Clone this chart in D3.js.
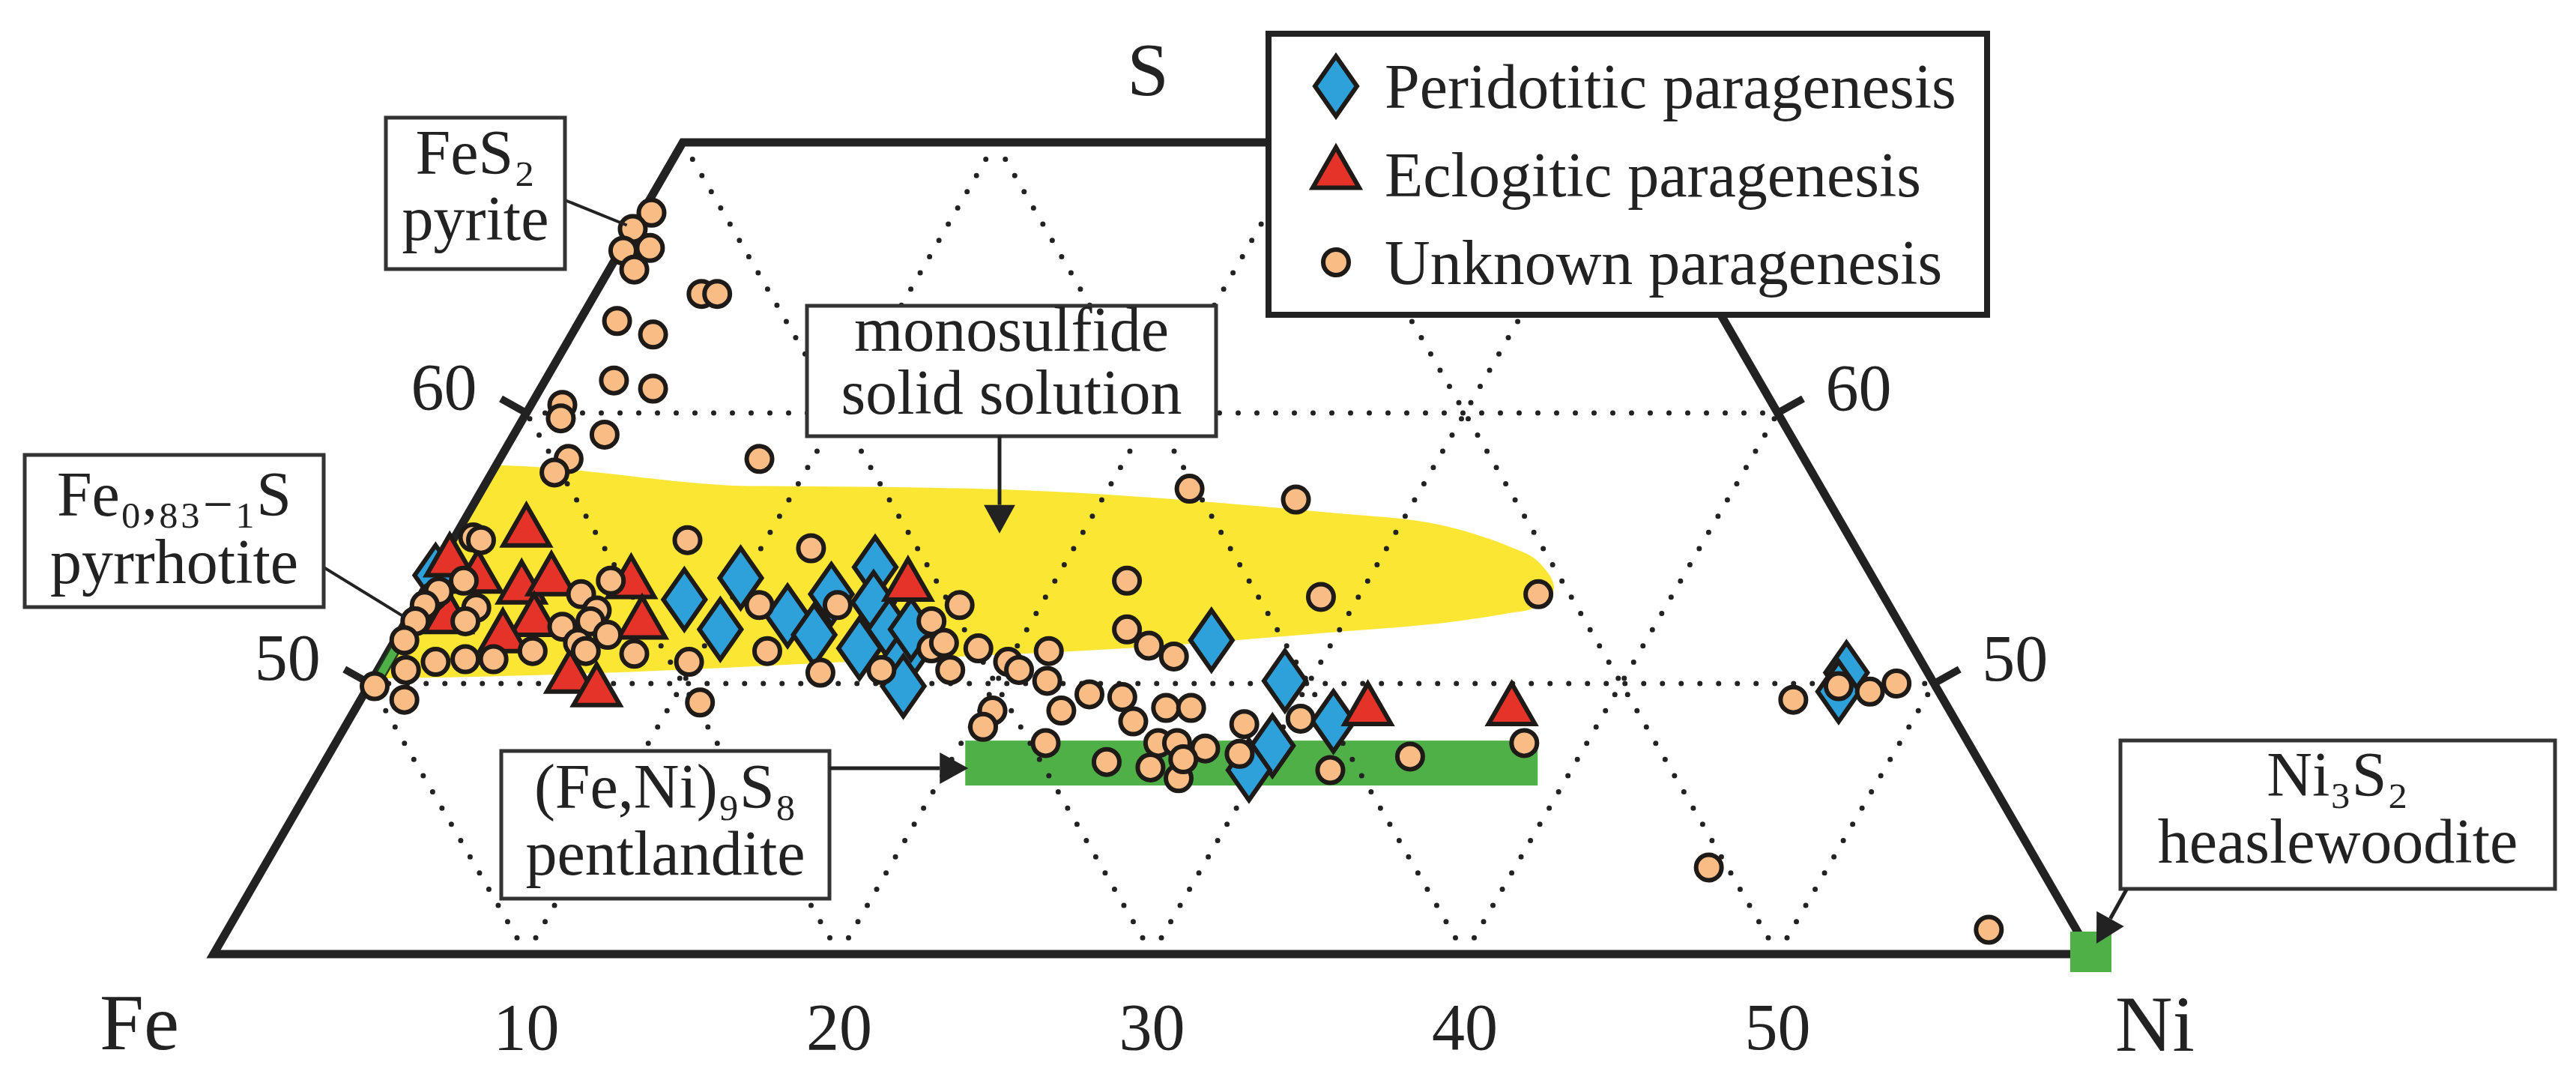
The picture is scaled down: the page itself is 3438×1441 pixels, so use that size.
<!DOCTYPE html>
<html>
<head>
<meta charset="utf-8">
<script src="https://cdn.jsdelivr.net/npm/d3@7"></script>
<style>
  html, body { margin: 0; padding: 0; background: #ffffff; }
  svg { display: block; }
  text { font-family: "Liberation Serif", "DejaVu Serif", serif; fill: #222; }
</style>
</head>
<body>
<script>
// ---------- DATA (atomic %, each point = [Ni, S]; Fe = 100 - Ni - S) ----------
const peridotitic = [
  [0.1,54.0],[8.5,53.1],[10.2,52.0],[9.9,53.9],[12.1,52.5],[13.3,51.8],[13.1,53.3],
  [14.0,54.3],[14.6,53.0],[15.0,51.3],[15.6,52.0],[16.6,50.9],[17.1,49.9],[16.3,52.0],
  [26.1,51.6],[29.2,50.1],[30.0,47.7],[31.5,48.6],[29.7,46.8],[47.0,50.4],[47.1,49.7]
];
const eclogitic = [
  [2.2,55.6],[0.3,54.5],[1.5,53.9],[3.1,53.5],[3.9,53.8],[6.5,53.7],[1.3,52.4],
  [4.1,52.3],[7.6,52.2],[3.4,51.7],[6.3,50.2],[7.4,49.7],[15.4,53.6],[32.4,49.0],[37.0,49.0]
];
const unknown = [
  [0.3,67.4],[0.0,66.8],[0.9,66.1],[0.1,66.0],[0.8,65.3],[3.4,64.4],[3.9,64.4],[1.2,63.4],
  [2.6,62.9],[2.2,61.2],[3.6,60.9],[1.0,60.3],[1.2,59.8],[2.9,59.2],[2.2,58.3],[2.0,57.8],[8.3,58.3],
  [7.5,55.3],[0.6,55.4],[0.9,55.3],[1.1,53.8],[0.4,53.2],[0.5,53.4],[0.3,52.9],[2.0,52.8],[1.9,52.3],
  [0.3,52.3],[0.3,51.6],[5.1,53.3],[5.8,53.8],[5.9,52.7],[5.9,52.3],[5.1,52.1],[5.9,51.5],[6.3,51.2],
  [6.7,51.8],[4.6,51.2],[7.9,51.1],[9.8,50.8],[1.7,50.8],[2.6,50.9],[3.5,50.9],[0.9,50.5],[0.2,49.9],
  [1.4,49.4],[10.9,49.3],
  [11.6,55.0],[11.0,52.9],[12.1,51.2],[13.5,52.9],[14.2,50.4],[16.1,50.5],[17.4,52.9],[16.8,52.3],
  [17.3,51.3],[17.6,51.5],[18.8,51.3],[18.3,50.5],[20.0,50.8],[20.5,50.5],[21.1,51.2],[21.6,50.1],
  [22.6,57.2],[26.2,56.8],
  [22.3,53.8],[28.8,53.2],[23.2,52.0],[24.2,51.4],[25.2,51.0],[23.2,49.6],[24.3,49.5],[25.1,48.6],
  [22.6,49.0],[20.4,49.0],[20.4,48.4],[22.7,47.8],[25.0,47.1],[25.9,49.1],[26.7,49.1],[26.3,47.8],
  [26.9,47.8],[27.9,47.6],[26.5,46.9],[27.6,46.5],[27.4,47.2],[28.7,48.5],[29.1,47.4],[30.4,48.7],
  [32.3,46.8],
  [35.7,53.3],[34.6,47.3],[38.0,47.8],
  [45.8,49.4],[47.0,49.9],[48.1,49.7],[48.8,50.0],[46.2,43.2],[56.3,40.9]
];
// monosulfide solid solution field outline [Ni, S]
const mssOutline = [
  [-3,57.3],[8.5,57.3],[18.2,57.1],[27.7,56.3],[31.1,55.9],[33.8,55.1],[35.1,54.5],[36.1,53.5],
  [35.8,52.8],[35.1,52.6],[32.9,52.2],[29.9,51.9],[23.5,51.3],[16.5,50.9],[9.5,50.5],[4.8,50.3],
  [0.6,50.2],[-3,50.2]
];
const pentlanditeNi = [20.5, 38.8];   // Ni range of the pentlandite band
const pentlanditeS = 47.06;          // (Fe,Ni)9S8
const pyrrhotiteS = [50.0, 53.7];    // Fe0.83-1S
const pyriteS = [65.9, 67.5];        // FeS2
const heazlewoodite = [60, 40];      // Ni3S2
const niTicks = [10, 20, 30, 40, 50];
const feGrid = [10, 20, 30, 40, 50];
const sTicks = [50, 60];
const legendItems = ["Peridotitic paragenesis", "Eclogitic paragenesis", "Unknown paragenesis"];
const boxLabels = [
  { x: 515,  y: 157,  w: 239, h: 202, lines: [["FeS₂", 232], ["pyrite", 320]] },
  { x: 1077, y: 408,  w: 546, h: 174, lines: [["monosulfide", 468], ["solid solution", 552]] },
  { x: 33,   y: 607,  w: 399, h: 203, lines: [["Fe₀,₈₃₋₁S", 688], ["pyrrhotite", 778]] },
  { x: 669,  y: 1002, w: 438, h: 197, lines: [["(Fe,Ni)₉S₈", 1078], ["pentlandite", 1167]] },
  { x: 2830, y: 988,  w: 580, h: 198, lines: [["Ni₃S₂", 1062], ["heaslewoodite", 1151]] }
];

// ---------- LAYOUT ----------
const W = 3438, H = 1441;
const svg = d3.select("body").append("svg").attr("width", W).attr("height", H)
  .attr("viewBox", `0 0 ${W} ${H}`);
svg.append("rect").attr("width", W).attr("height", H).attr("fill", "#fff");

// horizontal ternary coordinate h = Ni + (S-40)/2, vertical = S
const xScale = d3.scaleLinear().domain([0, 60]).range([285, 2790]);
const yScale = d3.scaleLinear().domain([40, 70]).range([1273, 190]);
const P = (ni, s) => [xScale(ni + (s - 40) / 2), yScale(s)];

const C = { yellow: "#fbe733", green: "#4fb048", orange: "#f8bc84", red: "#e6332a",
            blue: "#2ea0da", ink: "#1e1a17" };

const corners = [P(0,40), P(60,40), P(30,70), P(0,70)];
svg.append("clipPath").attr("id", "tri").append("path")
  .attr("d", "M" + corners.map(c => c.join(",")).join("L") + "Z");

// mss field
const areaLine = d3.line().x(d => P(d[0], d[1])[0]).y(d => P(d[0], d[1])[1])
  .curve(d3.curveCatmullRomClosed.alpha(0.5));
svg.append("path").attr("d", areaLine(mssOutline)).attr("fill", C.yellow)
  .attr("clip-path", "url(#tri)");

// pentlandite band
{
  const yTop = yScale(pentlanditeS + 0.83), yBot = yScale(pentlanditeS - 0.83);
  const x0 = P(pentlanditeNi[0], pentlanditeS)[0], x1 = P(pentlanditeNi[1], pentlanditeS)[0];
  svg.append("rect").attr("x", x0).attr("y", yTop).attr("width", x1 - x0)
    .attr("height", yBot - yTop).attr("fill", C.green);
}

// dotted grid
const grid = svg.append("g").attr("stroke", "#222").attr("stroke-width", 7)
  .attr("stroke-linecap", "round").attr("stroke-dasharray", "0,25").attr("fill", "none");
const seg = (a, b) => grid.append("line").attr("x1", a[0]).attr("y1", a[1]).attr("x2", b[0]).attr("y2", b[1]);
niTicks.forEach(c => seg(P(c, 40), P(c, Math.min(70, 100 - c))));
feGrid.forEach(c => {
  const sEnd = Math.min(70, 100 - c);
  seg(P(60 - c, 40), P(100 - c - sEnd, sEnd));
});
sTicks.forEach(c => seg(P(0, c), P(100 - c, c)));

// frame
svg.append("path").attr("d", "M" + corners.map(c => c.join(",")).join("L") + "Z")
  .attr("fill", "none").attr("stroke", "#222").attr("stroke-width", 11)
  .attr("stroke-linejoin", "miter");

// side ticks + labels
sTicks.forEach(s => {
  const L = P(0, s), R = P(100 - s, s);
  svg.append("line").attr("x1", L[0]).attr("y1", L[1]).attr("x2", L[0] - 34).attr("y2", L[1] - 19)
    .attr("stroke", "#222").attr("stroke-width", 10);
  svg.append("line").attr("x1", R[0]).attr("y1", R[1]).attr("x2", R[0] + 34).attr("y2", R[1] - 19)
    .attr("stroke", "#222").attr("stroke-width", 10);
  svg.append("text").attr("x", L[0] - 66).attr("y", L[1] - 5).attr("text-anchor", "end")
    .attr("font-size", 88).text(s);
  svg.append("text").attr("x", R[0] + 64).attr("y", R[1] - 4).attr("text-anchor", "start")
    .attr("font-size", 88).text(s);
});
niTicks.forEach(n => {
  svg.append("text").attr("x", P(n, 40)[0]).attr("y", 1400).attr("text-anchor", "middle")
    .attr("font-size", 88).text(n);
});
svg.append("text").attr("x", 133).attr("y", 1400).attr("font-size", 106).text("Fe");
svg.append("text").attr("x", 2823).attr("y", 1402).attr("font-size", 106).text("Ni");
svg.append("text").attr("x", 1532).attr("y", 126).attr("text-anchor", "middle").attr("font-size", 100).text("S");

// mineral markers
const bar = (s0, s1, w) => [P(0, s0), P(0, s1), P(w, s1), P(w, s0)];
[bar(pyrrhotiteS[0], pyrrhotiteS[1], 0.35), bar(pyriteS[0], pyriteS[1], 0.4)].forEach(pts => {
  svg.append("path").attr("d", "M" + pts.map(p => p.join(",")).join("L") + "Z")
    .attr("fill", C.green).attr("stroke", "#203a1c").attr("stroke-width", 2.5);
});
{
  const h = P(heazlewoodite[0], heazlewoodite[1]);
  svg.append("rect").attr("x", h[0] - 27).attr("y", h[1] - 30).attr("width", 55).attr("height", 54)
    .attr("fill", C.green);
}

// symbols
const diamondPath = "M0,-40L28,0L0,40L-28,0Z";
const trianglePath = "M0,-36L31,18L-31,18Z";
const mk = svg.append("g").attr("stroke", C.ink).attr("stroke-width", 6).attr("stroke-linejoin", "miter");
mk.selectAll(".dia").data(peridotitic).join("path").attr("class", "dia")
  .attr("d", diamondPath).attr("fill", C.blue)
  .attr("transform", d => `translate(${P(d[0], d[1])})`);
mk.selectAll(".tri").data(eclogitic).join("path").attr("class", "tri")
  .attr("d", trianglePath).attr("fill", C.red)
  .attr("transform", d => `translate(${P(d[0], d[1])})`);
mk.selectAll(".cir").data(unknown).join("circle").attr("class", "cir")
  .attr("r", 17).attr("fill", C.orange)
  .attr("cx", d => P(d[0], d[1])[0]).attr("cy", d => P(d[0], d[1])[1]);

// ---------- annotation boxes ----------
function arrow(x1, y1, x2, y2, head) {
  const a = Math.atan2(y2 - y1, x2 - x1);
  const bx = x2 - head * Math.cos(a), by = y2 - head * Math.sin(a);
  svg.append("line").attr("x1", x1).attr("y1", y1).attr("x2", bx).attr("y2", by)
    .attr("stroke", "#222").attr("stroke-width", 5);
  const hw = head * 0.55, nx = -Math.sin(a), ny = Math.cos(a);
  svg.append("path").attr("fill", "#222")
    .attr("d", `M${x2},${y2}L${bx + nx * hw},${by + ny * hw}L${bx - nx * hw},${by - ny * hw}Z`);
}

// leaders
const pyr = P(0.1, 66.8), pyrr = P(0.1, 52.4);
svg.append("line").attr("x1", 754).attr("y1", 267).attr("x2", pyr[0] - 12).attr("y2", pyr[1] - 5)
  .attr("stroke", "#222").attr("stroke-width", 4);
svg.append("line").attr("x1", 432).attr("y1", 757).attr("x2", pyrr[0] - 8).attr("y2", pyrr[1] - 2)
  .attr("stroke", "#222").attr("stroke-width", 4);

boxLabels.forEach(b => {
  const g = svg.append("g");
  g.append("rect").attr("x", b.x).attr("y", b.y).attr("width", b.w).attr("height", b.h)
    .attr("fill", "#fff").attr("stroke", "#333").attr("stroke-width", 5);
  b.lines.forEach(([t, y]) => g.append("text").attr("x", b.x + b.w / 2).attr("y", y)
    .attr("text-anchor", "middle").attr("font-size", 84).text(t));
});

arrow(1334, 582, 1334, yScale(55.55), 38);
arrow(1107, 1025, P(pentlanditeNi[0], pentlanditeS)[0] + 4, 1025, 38);
{
  const h = P(heazlewoodite[0], heazlewoodite[1]);
  arrow(2838, 1187, h[0] + 8, h[1] - 14, 38);
}

// ---------- legend ----------
const lg = svg.append("g");
lg.append("rect").attr("x", 1693).attr("y", 45).attr("width", 959).attr("height", 375)
  .attr("fill", "#fff").attr("stroke", "#222").attr("stroke-width", 8);
const legY = d3.scalePoint().domain(legendItems).range([115, 350]);
legendItems.forEach((name, i) => {
  const cy = legY(name);
  const g = lg.append("g").attr("transform", `translate(1783,${cy})`)
    .attr("stroke", C.ink).attr("stroke-width", 6);
  if (i === 0) g.append("path").attr("d", diamondPath).attr("fill", C.blue);
  else if (i === 1) g.append("path").attr("d", trianglePath).attr("fill", C.red);
  else g.append("circle").attr("r", 17).attr("fill", C.orange);
  lg.append("text").attr("x", 1848).attr("y", cy + 29).attr("font-size", 84).text(name);
});
</script>
</body>
</html>
